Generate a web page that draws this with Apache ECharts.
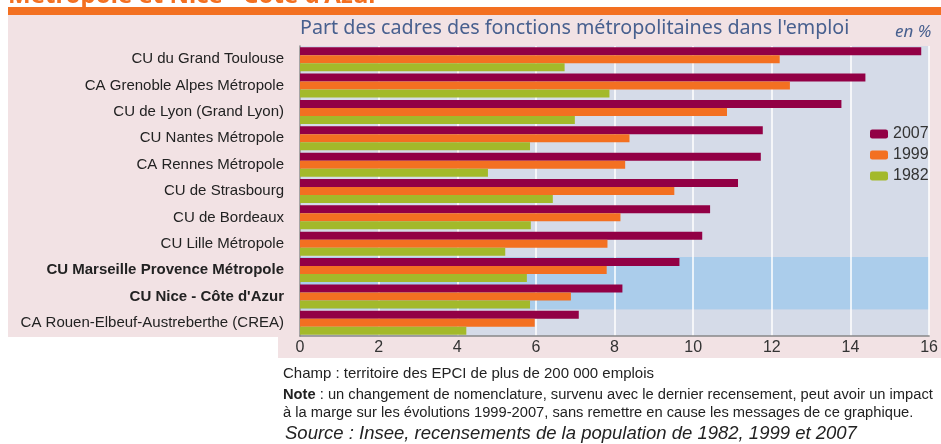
<!DOCTYPE html>
<html style="height: 100%">
<head>
    <meta charset="utf-8">
</head>
<body style="height: 100%;width: 100%;margin: 0;background: #ffffff;">
    <div id="container" style="width: 941px;height: 444px;"></div>
    <script type="text/javascript" src="https://cdn.jsdelivr.net/npm/echarts@6/dist/echarts.min.js"></script>
    <script type="text/javascript">
        var categories = [
            'CU du Grand Toulouse',
            'CA Grenoble Alpes Métropole',
            'CU de Lyon (Grand Lyon)',
            'CU Nantes Métropole',
            'CA Rennes Métropole',
            'CU de Strasbourg',
            'CU de Bordeaux',
            'CU Lille Métropole',
            'CU Marseille Provence Métropole',
            'CU Nice - Côte d\'Azur',
            'CA Rouen-Elbeuf-Austreberthe (CREA)'
        ];
        var boldCategories = ['CU Marseille Provence Métropole', 'CU Nice - Côte d\'Azur'];
        var v2007 = [15.8, 14.38, 13.77, 11.77, 11.72, 11.14, 10.43, 10.23, 9.65, 8.2, 7.09];
        var v1999 = [12.2, 12.46, 10.86, 8.38, 8.27, 9.52, 8.15, 7.82, 7.8, 6.89, 5.97];
        var v1982 = [6.73, 7.87, 6.99, 5.85, 4.78, 6.43, 5.87, 5.22, 5.77, 5.85, 4.23];
        var xTicks = [0, 2, 4, 6, 8, 10, 12, 14, 16];

        var dom = document.getElementById("container");
        var myChart = echarts.init(dom);

        // one colour per category band, the two highlighted ones in blue
        var bandColors = categories.map(function (c) {
            return boldCategories.indexOf(c) >= 0 ? '#abcdeb' : '#d5dbe8';
        });

        var option = {
            animation: false,
            textStyle: { fontFamily: 'Liberation Sans' },
            graphic: [
                { type: 'rect', z: -10, shape: { x: 8, y: 15, width: 933, height: 322 }, style: { fill: '#f2e2e4' } },
                { type: 'rect', z: -10, shape: { x: 278, y: 337, width: 663, height: 21 }, style: { fill: '#f2e2e4' } },
                { type: 'rect', z: -10, shape: { x: 8, y: 7, width: 933, height: 8 }, style: { fill: '#f37021' } },
                { type: 'text', left: 8, top: -16, style: { text: 'Métropole et Nice - Côte d\'Azur', fill: '#f37021', font: 'bold 24px "Noto Sans"' } },
                { type: 'text', left: 300, top: 18, style: { text: 'Part des cadres des fonctions métropolitaines dans l\'emploi', fill: '#48608f', font: '19.7px "Noto Sans"' } },
                { type: 'text', left: 895, top: 24, style: { text: 'en %', fill: '#48608f', font: 'italic 17px "Noto Sans"' } },
                { type: 'text', left: 283, top: 366, style: { text: 'Champ : territoire des EPCI de plus de 200 000 emplois', fill: '#222', font: '15px "Liberation Sans"' } },
                {
                    type: 'text', left: 283, top: 386, style: {
                        text: '{b|Note} : un changement de nomenclature, survenu avec le dernier recensement, peut avoir un impact\nà la marge sur les évolutions 1999-2007, sans remettre en cause les messages de ce graphique.',
                        fill: '#222', font: '14.7px "Liberation Sans"', lineHeight: 18,
                        rich: { b: { fontWeight: 'bold', fontSize: 14.7, fontFamily: 'Liberation Sans', fill: '#222' } }
                    }
                },
                { type: 'text', left: 285, top: 424, style: { text: 'Source : Insee, recensements de la population de 1982, 1999 et 2007', fill: '#222', font: 'italic 18.5px "Liberation Sans"' } }
            ],
            legend: {
                orient: 'vertical',
                left: 865,
                top: 121,
                itemWidth: 18,
                itemHeight: 9,
                itemGap: 5,
                textStyle: { fontSize: 16, color: '#333', fontFamily: 'Liberation Sans' },
                data: ['2007', '1999', '1982']
            },
            grid: {
                left: 300,
                right: 9,
                top: 46,
                bottom: 108,
                containLabel: false
            },
            xAxis: {
                type: 'value',
                min: 0,
                max: 16,
                interval: 2,
                axisLine: { show: true, lineStyle: { color: '#888', width: 1.5 } },
                axisTick: { show: false },
                axisLabel: { fontSize: 16, color: '#333', margin: 4 },
                splitLine: { show: true, lineStyle: { color: '#ffffff', width: 1.5 } }
            },
            yAxis: {
                type: 'category',
                inverse: true,
                data: categories,
                axisLine: { show: true, lineStyle: { color: '#888', width: 1.5 } },
                axisTick: { show: false },
                axisLabel: {
                    fontSize: 15,
                    color: '#222',
                    margin: 16,
                    formatter: function (v) {
                        return boldCategories.indexOf(v) >= 0 ? '{b|' + v + '}' : v;
                    },
                    rich: { b: { fontWeight: 'bold', fontSize: 15, color: '#222' } }
                },
                splitArea: { show: true, areaStyle: { color: bandColors, opacity: 1 } }
            },
            series: [
                { name: '2007', type: 'bar', data: v2007, itemStyle: { color: '#920045' }, barGap: '0%', barCategoryGap: '9%' },
                { name: '1999', type: 'bar', data: v1999, itemStyle: { color: '#f37021' } },
                { name: '1982', type: 'bar', data: v1982, itemStyle: { color: '#a3b92a' } }
            ]
        };

        myChart.setOption(option);
        window.onresize = myChart.resize;
    </script>
</body>
</html>
